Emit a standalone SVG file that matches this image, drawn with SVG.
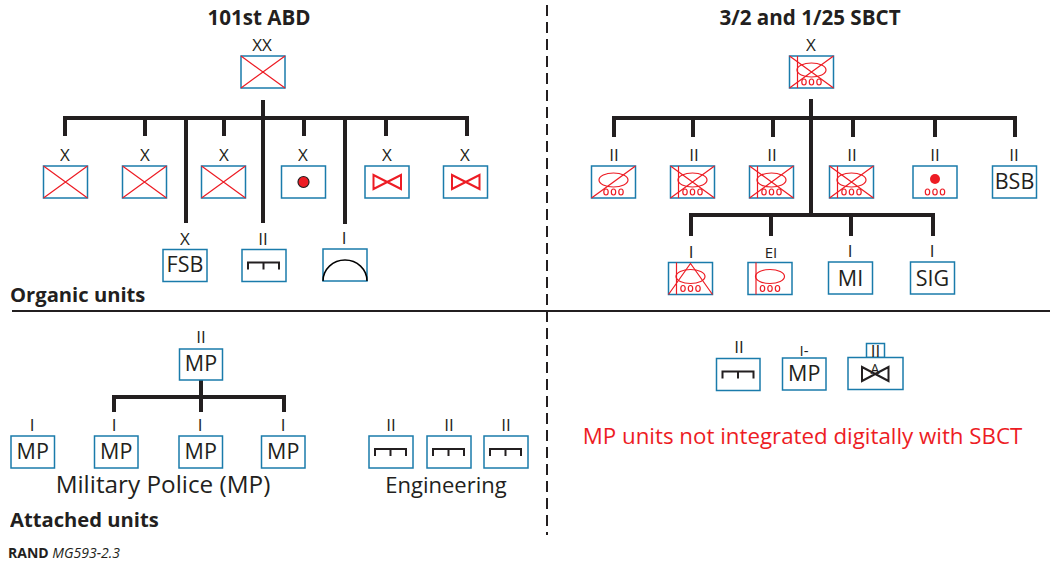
<svg xmlns="http://www.w3.org/2000/svg" xmlns:xlink="http://www.w3.org/1999/xlink" width="1050" height="562" viewBox="0 0 1050 562">
<style>
text{font-family:"Open Sans","Noto Sans","Liberation Sans",sans-serif;fill:#231f20;text-anchor:middle;opacity:.995}
.t{font-size:20.600px;font-weight:700}
.sec{font-size:20.200px;font-weight:700;text-anchor:start}
.e{font-size:17px}
.u{font-size:21.500px}
.cap{font-size:22px}
.box{fill:#fff;stroke:#1a7bab;stroke-width:1.5}
.red{fill:none;stroke:#ed1c24;stroke-width:1.2}
.blk{fill:none;stroke:#231f20;stroke-width:2}
.bus{fill:none;stroke:#231f20;stroke-width:4}
.div{fill:none;stroke:#231f20;stroke-width:2}
</style>
<defs>
<g id="x"><path class="red" d="M0 0L44 32M44 0L0 32"/></g>
<g id="rec"><ellipse class="red" cx="22" cy="14" rx="14.500" ry="7"/><ellipse class="red" cx="14.500" cy="26" rx="2.200" ry="3"/><ellipse class="red" cx="22" cy="26" rx="2.200" ry="3"/><ellipse class="red" cx="29.500" cy="26" rx="2.200" ry="3"/></g>
<g id="bow"><path class="red" style="stroke-width:2" d="M8.500 9L36 23V9L8.500 23Z"/></g>
<g id="eng"><path class="blk" d="M6 20V13H37V20M21.500 13V20"/></g>
<g id="sbct"><use href="#x"/><use href="#rec"/><path class="red" d="M8 0V32"/></g>
</defs>

<g id="connectors">
<path class="bus" d="M65 136V118H467V136M145 118V136M224 118V136M304 118V136M386 118V136M263 100V223M186 118V223M345 118V224"/>
<path class="bus" d="M614 137V118H1015V137M693 118V137M773 118V137M853 118V137M935 118V137M811 99V215M691 236V215H933V236M771 215V236M851 215V236"/>
<path class="bus" d="M114 412V397H284V412M201 380V412"/>
</g>

<g id="dividers">
<path class="div" d="M12 311H1050"/>
<path class="div" stroke-dasharray="11 6" d="M547 5V535"/>
</g>

<g id="titles">
<text class="t" x="259" y="25">101st ABD</text>
<text class="t" x="810" y="25">3/2 and 1/25 SBCT</text>
<text class="sec" x="10" y="302">Organic units</text>
<text class="sec" x="10" y="527">Attached units</text>
<text class="cap" x="163" y="493" style="font-size:24.300px">Military Police (MP)</text>
<text class="cap" x="446" y="493">Engineering</text>
<text x="802.500" y="444" style="font-size:22.300px;fill:#ed1c24">MP units not integrated digitally with SBCT</text>
<text x="8" y="558" style="font-size:14px;text-anchor:start"><tspan font-weight="700">RAND</tspan> <tspan font-style="italic">MG593-2.3</tspan></text>
</g>

<g id="n-abd"><text class="e" x="262" y="51">XX</text><g transform="translate(241 56)"><rect class="box" width="44" height="32"/><use href="#x"/></g></g>
<g id="n-l1"><text class="e" x="65" y="161">X</text><g transform="translate(43.500 166)"><rect class="box" width="44" height="32"/><use href="#x"/></g></g>
<g id="n-l2"><text class="e" x="145" y="161">X</text><g transform="translate(122.500 166)"><rect class="box" width="44" height="32"/><use href="#x"/></g></g>
<g id="n-l3"><text class="e" x="224" y="161">X</text><g transform="translate(201.500 166)"><rect class="box" width="44" height="32"/><use href="#x"/></g></g>
<g id="n-l4"><text class="e" x="303" y="161">X</text><g transform="translate(281.500 166)"><rect class="box" width="44" height="32"/><circle cx="22" cy="16" r="5.500" fill="#ed1c24" stroke="#231f20" stroke-width="1.200"/></g></g>
<g id="n-l5"><text class="e" x="387" y="161">X</text><g transform="translate(365 166)"><rect class="box" width="44" height="32"/><use href="#bow"/></g></g>
<g id="n-l6"><text class="e" x="465" y="161">X</text><g transform="translate(443.500 166)"><rect class="box" width="44" height="32"/><use href="#bow"/></g></g>
<g id="n-fsb"><text class="e" x="185" y="245">X</text><g transform="translate(163 249.500)"><rect class="box" width="44" height="32"/><text class="u" x="22" y="22.500">FSB</text></g></g>
<g id="n-lsup"><text class="e" x="263" y="245">II</text><g transform="translate(242 249.500)"><rect class="box" width="44" height="32"/><use href="#eng"/></g></g>
<g id="n-arc"><text class="e" x="344" y="244">I</text><g transform="translate(323 249)"><rect class="box" width="44" height="32"/><path d="M0 32A22 21 0 0 1 44 32" fill="none" stroke="#000" stroke-width="1.500"/></g></g>

<g id="n-sbct"><text class="e" x="811" y="51">X</text><g transform="translate(789.500 56)"><rect class="box" width="44" height="32"/><use href="#sbct"/></g></g>
<g id="n-r1"><text class="e" x="614" y="161">II</text><g transform="translate(591.500 166)"><rect class="box" width="44" height="32"/><use href="#rec"/><path class="red" d="M0 32L44 0"/></g></g>
<g id="n-r2"><text class="e" x="694" y="161">II</text><g transform="translate(670.500 166)"><rect class="box" width="44" height="32"/><use href="#sbct"/></g></g>
<g id="n-r3"><text class="e" x="772" y="161">II</text><g transform="translate(749.500 166)"><rect class="box" width="44" height="32"/><use href="#sbct"/></g></g>
<g id="n-r4"><text class="e" x="852" y="161">II</text><g transform="translate(829.500 166)"><rect class="box" width="44" height="32"/><use href="#sbct"/></g></g>
<g id="n-r5"><text class="e" x="935" y="161">II</text><g transform="translate(913 166)"><rect class="box" width="44" height="32"/><circle cx="22" cy="13" r="5" fill="#ed1c24"/><ellipse class="red" cx="14.500" cy="26" rx="2.200" ry="3"/><ellipse class="red" cx="22" cy="26" rx="2.200" ry="3"/><ellipse class="red" cx="29.500" cy="26" rx="2.200" ry="3"/></g></g>
<g id="n-bsb"><text class="e" x="1014" y="161">II</text><g transform="translate(992.500 166)"><rect class="box" width="44" height="32"/><text class="u" x="22" y="23">BSB</text></g></g>
<g id="n-fa"><text class="e" x="691" y="258">I</text><g transform="translate(668.500 262.500)"><rect class="box" width="44" height="32"/><use href="#rec"/><path class="red" d="M8 0V32M0 32L22 1L44 32"/></g></g>
<g id="n-ei"><text class="e" x="771" y="258" style="font-size:15px">EI</text><g transform="translate(748 262.500)"><rect class="box" width="44" height="32"/><use href="#rec"/><path class="red" d="M8 0V32"/></g></g>
<g id="n-mi"><text class="e" x="850" y="257">I</text><g transform="translate(828.500 262)"><rect class="box" width="44" height="32"/><text class="u" x="22" y="23.700">MI</text></g></g>
<g id="n-sig"><text class="e" x="932" y="257">I</text><g transform="translate(910.500 262)"><rect class="box" width="44" height="32"/><text class="u" x="22" y="23.700">SIG</text></g></g>

<g id="n-mp0"><text class="e" x="201" y="343">II</text><g transform="translate(179.500 349)"><rect class="box" width="43" height="31"/><text class="u" x="21.500" y="21.700">MP</text></g></g>
<g id="n-mp1"><text class="e" x="32" y="431">I</text><g transform="translate(11 436)"><rect class="box" width="43.500" height="32"/><text class="u" x="21.750" y="23.300">MP</text></g></g>
<g id="n-mp2"><text class="e" x="114" y="431">I</text><g transform="translate(94.500 436)"><rect class="box" width="43.500" height="32"/><text class="u" x="21.750" y="23.300">MP</text></g></g>
<g id="n-mp3"><text class="e" x="200" y="431">I</text><g transform="translate(179 436)"><rect class="box" width="43.500" height="32"/><text class="u" x="21.750" y="23.300">MP</text></g></g>
<g id="n-mp4"><text class="e" x="283" y="431">I</text><g transform="translate(261.500 436)"><rect class="box" width="43.500" height="32"/><text class="u" x="21.750" y="23.300">MP</text></g></g>
<g id="n-e1"><text class="e" x="391" y="431">II</text><g transform="translate(369 436)"><rect class="box" width="44" height="32"/><use href="#eng"/></g></g>
<g id="n-e2"><text class="e" x="449" y="431">II</text><g transform="translate(427 436)"><rect class="box" width="44" height="32"/><use href="#eng"/></g></g>
<g id="n-e3"><text class="e" x="506" y="431">II</text><g transform="translate(484 436)"><rect class="box" width="44" height="32"/><use href="#eng"/></g></g>

<g id="n-re"><text class="e" x="739" y="353">II</text><g transform="translate(716.500 358.500)"><rect class="box" width="43.500" height="32"/><use href="#eng"/></g></g>
<g id="n-rmp"><text class="e" x="804" y="356" style="font-size:15px">I-</text><g transform="translate(782.500 358)"><rect class="box" width="43.500" height="32"/><text class="u" x="21.750" y="23.300">MP</text></g></g>
<g id="n-rab">
<rect class="box" x="866.500" y="343.500" width="18" height="14"/>
<rect class="box" x="848" y="357.500" width="55" height="32"/>
<text class="e" x="875.500" y="357">II</text>
<path class="blk" d="M862 367L888.500 381V367L862 381Z"/>
<text x="875" y="374" style="font-size:14px">A</text>
</g>
</svg>
